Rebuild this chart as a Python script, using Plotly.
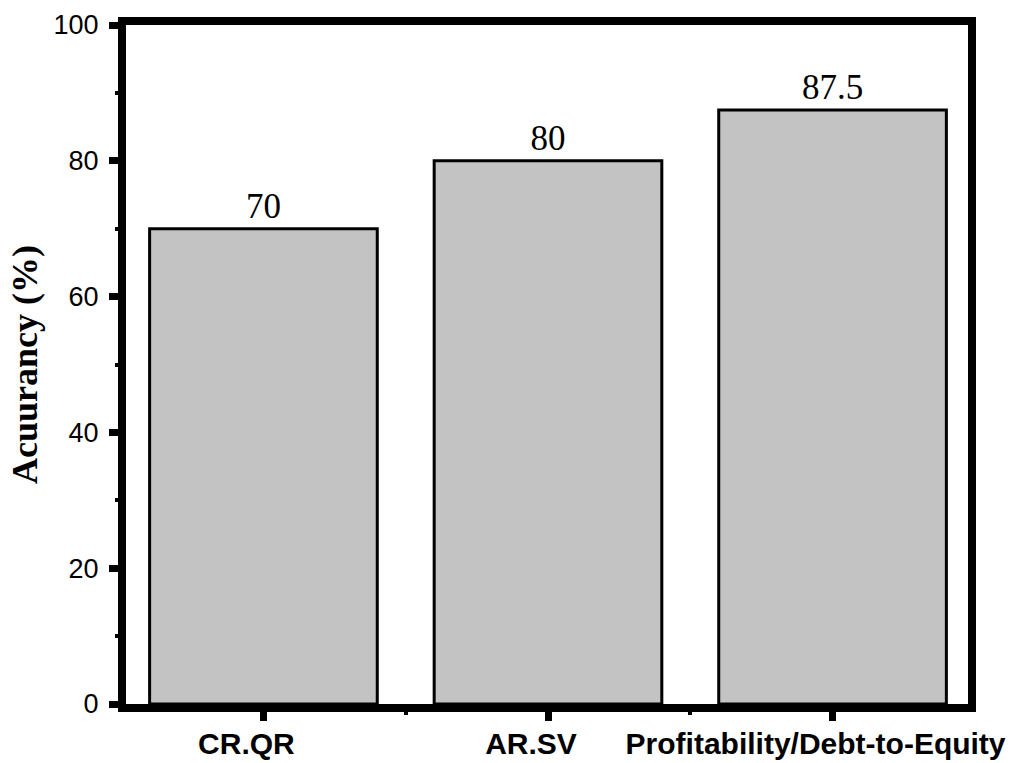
import plotly.graph_objects as go

categories = ["CR.QR", "AR.SV", "Profitability/Debt-to-Equity"]
accuracy = [70, 80, 87.5]
y_ticks = [0, 20, 40, 60, 80, 100]

x_pos = list(range(len(categories)))

fig = go.Figure()
fig.add_trace(go.Bar(
    x=x_pos,
    y=accuracy,
    width=0.80,
    marker=dict(color="#c3c3c3", line=dict(color="black", width=3)),
    text=[str(v) for v in accuracy],
    textposition="outside",
    cliponaxis=False,
    textfont=dict(family="Liberation Serif, Times New Roman, serif", size=35, color="black"),
))

fig.update_layout(
    width=1023, height=763,
    margin=dict(l=126, r=55, t=25, b=59),
    paper_bgcolor="white", plot_bgcolor="white",
    showlegend=False,
)

fig.update_xaxes(
    range=[-0.483, 2.476],
    automargin=False,
    tickmode="array", tickvals=x_pos, ticktext=categories,
    showline=True, linecolor="black", linewidth=8, mirror=True,
    ticks="outside", ticklen=9, tickwidth=7, tickcolor="black",
    ticklabelshift=-17, ticklabelstandoff=-3,
    tickfont=dict(family="Liberation Sans, Arial, sans-serif", size=30, color="black", weight="bold"),
    showgrid=False, zeroline=False,
    minor=dict(tickmode="array", tickvals=[0.5, 1.5], ticks="outside", ticklen=3, tickwidth=4, tickcolor="black", showgrid=False),
)

fig.update_yaxes(
    range=[0, 100],
    automargin=False,
    tickmode="array", tickvals=y_ticks,
    showline=True, linecolor="black", linewidth=8, mirror=True,
    ticks="outside", ticklen=9, tickwidth=7, tickcolor="black",
    ticklabelstandoff=5,
    tickfont=dict(family="Liberation Sans, Arial, sans-serif", size=27, color="black"),
    showgrid=False, zeroline=False,
    minor=dict(dtick=10, ticks="outside", ticklen=3, tickwidth=4, tickcolor="black", showgrid=False),
    title=dict(text="<b>Acuurancy (%)</b>", standoff=8,
               font=dict(family="Liberation Serif, Times New Roman, serif", size=36, color="black")),
)

fig.write_html("out.html", config={"displayModeBar": False},
               post_script="document.body.style.margin='0';")
